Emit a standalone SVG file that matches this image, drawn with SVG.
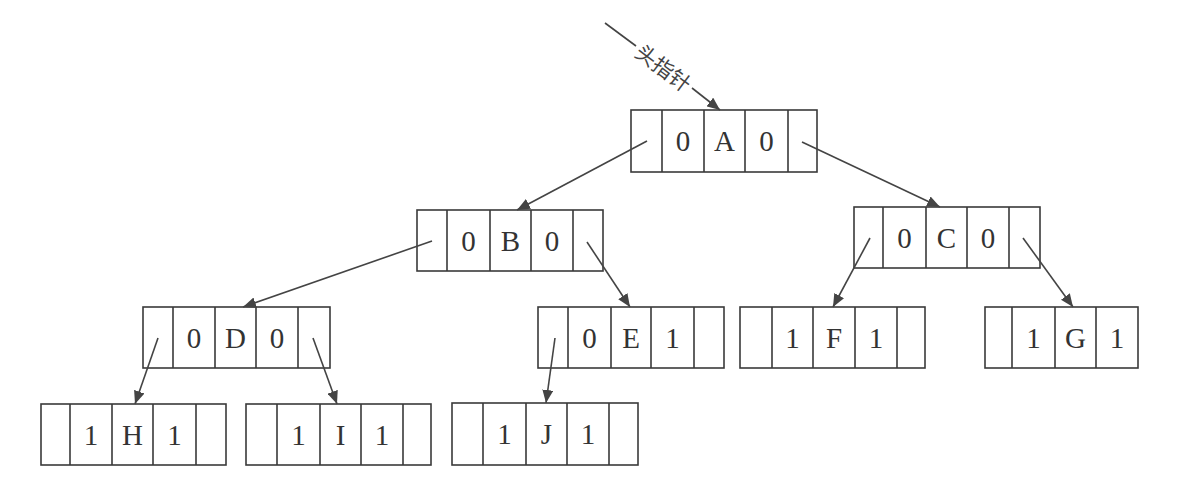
<svg xmlns="http://www.w3.org/2000/svg" width="1187" height="490" viewBox="0 0 1187 490">
<style>
.box{fill:none;stroke:#3a3a3a;stroke-width:1.6}
.t{font-family:"Liberation Serif","Times New Roman",serif;font-size:29px;fill:#333;text-anchor:middle}
.c{stroke:#444;stroke-width:1.6;fill:none}
.lbl{font-family:"Noto Sans CJK SC","Noto Sans",sans-serif;font-size:21px;fill:#444;text-anchor:middle;dominant-baseline:central}
</style>
<defs>
<marker id="ah" markerUnits="userSpaceOnUse" markerWidth="13" markerHeight="11" refX="13" refY="5.5" orient="auto">
<path d="M0,0 L13,5.5 L0,11 z" fill="#444"/>
</marker>
</defs>
<rect width="1187" height="490" fill="#fff"/>

<g id="nodeA">
<rect class="box" x="631" y="110" width="186" height="62"/>
<path class="box" d="M662,110V172M704,110V172M745,110V172M788,110V172"/>
<text class="t" x="683" y="151">0</text><text class="t" x="724.5" y="151">A</text><text class="t" x="766.5" y="151">0</text>
</g>
<g id="nodeB">
<rect class="box" x="417" y="210" width="186" height="61"/>
<path class="box" d="M447,210V271M490,210V271M531,210V271M573,210V271"/>
<text class="t" x="468.5" y="251">0</text><text class="t" x="510.5" y="251">B</text><text class="t" x="552" y="251">0</text>
</g>
<g id="nodeC">
<rect class="box" x="854" y="207" width="186" height="61"/>
<path class="box" d="M883,207V268M926,207V268M967,207V268M1009,207V268"/>
<text class="t" x="904.5" y="248">0</text><text class="t" x="946.5" y="248">C</text><text class="t" x="988" y="248">0</text>
</g>
<g id="nodeD">
<rect class="box" x="143" y="307" width="187" height="61"/>
<path class="box" d="M173,307V368M215,307V368M256,307V368M298,307V368"/>
<text class="t" x="194" y="348">0</text><text class="t" x="235.5" y="348">D</text><text class="t" x="277" y="348">0</text>
</g>
<g id="nodeE">
<rect class="box" x="538" y="307" width="186" height="61"/>
<path class="box" d="M568,307V368M611,307V368M651,307V368M694,307V368"/>
<text class="t" x="589.5" y="348">0</text><text class="t" x="631" y="348">E</text><text class="t" x="672.5" y="348">1</text>
</g>
<g id="nodeF">
<rect class="box" x="740" y="307" width="185" height="61"/>
<path class="box" d="M772,307V368M813,307V368M855,307V368M897,307V368"/>
<text class="t" x="792.5" y="348">1</text><text class="t" x="834" y="348">F</text><text class="t" x="876" y="348">1</text>
</g>
<g id="nodeG">
<rect class="box" x="985" y="307" width="153" height="61"/>
<path class="box" d="M1012,307V368M1055,307V368M1096,307V368"/>
<text class="t" x="1033.5" y="348">1</text><text class="t" x="1075.5" y="348">G</text><text class="t" x="1117" y="348">1</text>
</g>
<g id="nodeH">
<rect class="box" x="41" y="404" width="185" height="61"/>
<path class="box" d="M70,404V465M112,404V465M153,404V465M196,404V465"/>
<text class="t" x="91" y="445">1</text><text class="t" x="132.5" y="445">H</text><text class="t" x="174.5" y="445">1</text>
</g>
<g id="nodeI">
<rect class="box" x="246" y="404" width="185" height="61"/>
<path class="box" d="M277,404V465M320,404V465M361,404V465M403,404V465"/>
<text class="t" x="298.5" y="445">1</text><text class="t" x="340.5" y="445">I</text><text class="t" x="382" y="445">1</text>
</g>
<g id="nodeJ">
<rect class="box" x="452" y="403" width="186" height="62"/>
<path class="box" d="M483,403V465M526,403V465M567,403V465M609,403V465"/>
<text class="t" x="504.5" y="444">1</text><text class="t" x="546.5" y="444">J</text><text class="t" x="588" y="444">1</text>
</g>

<g id="connectors">
<line class="c" x1="605" y1="23" x2="636" y2="46"/>
<line class="c" x1="692" y1="88" x2="720" y2="110" marker-end="url(#ah)"/>
<text class="lbl" x="664" y="67" transform="rotate(37 664 67)">头指针</text>
<line class="c" x1="647" y1="141" x2="517" y2="210" marker-end="url(#ah)"/>
<line class="c" x1="802" y1="142" x2="940" y2="207" marker-end="url(#ah)"/>
<line class="c" x1="432" y1="241" x2="243" y2="307" marker-end="url(#ah)"/>
<line class="c" x1="587" y1="242" x2="630" y2="307" marker-end="url(#ah)"/>
<line class="c" x1="870" y1="238" x2="833" y2="307" marker-end="url(#ah)"/>
<line class="c" x1="1023" y1="238" x2="1073" y2="307" marker-end="url(#ah)"/>
<line class="c" x1="158" y1="338" x2="135" y2="404" marker-end="url(#ah)"/>
<line class="c" x1="313" y1="338" x2="337" y2="404" marker-end="url(#ah)"/>
<line class="c" x1="555" y1="338" x2="546" y2="403" marker-end="url(#ah)"/>
</g>
</svg>
